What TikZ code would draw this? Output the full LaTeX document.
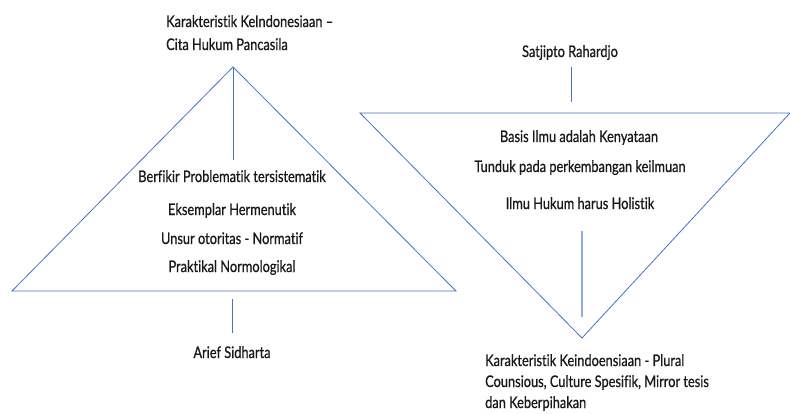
\documentclass[tikz,border=0pt]{standalone}
\usepackage{fontspec}
\setmainfont{Lato}[FakeStretch=0.8, FakeBold=0.7, Ligatures=NoCommon]
\begin{document}
\begin{tikzpicture}[x=1pt,y=-1pt,
  outline/.style={draw=edgeblue, line width=0.8pt},
  stem/.style={draw=edgeblue, line width=0.8pt},
  softstem/.style={draw=lightblue, line width=1.6pt},
  lbl/.style={inner sep=0pt, anchor=base, font=\fontsize{16}{22}\selectfont, text=black!90},
  para/.style={lbl, align=left, anchor=base west},
]
\definecolor{edgeblue}{HTML}{4472C4}
\definecolor{lightblue}{HTML}{8FAADC}
\path[use as bounding box] (0,0) rectangle (790,413);

% left triangle (apex up)
\coordinate (la) at (233,67);
\coordinate (ll) at (12,291);
\coordinate (lr) at (456,291);
\draw[outline, line join=miter] (ll) -- (la) -- (lr) -- cycle;

% multi-line labels are placed by the baseline of their last line
\node[para] (ltop) at (166,50)
  {Karakteristik KeIndonesiaan –\\[1pt]Cita Hukum Pancasila};
\coordinate (lstemend) at (233,160);
\draw[stem] (la) -- (lstemend);

\node[lbl] (l1) at (232,182) {Berfikir Problematik tersistematik};
\node[lbl] (l2) at (232,215) {Eksemplar Hermenutik};
\node[lbl] (l3) at (232,244) {Unsur otoritas - Normatif};
\node[lbl] (l4) at (232,272) {Praktikal Normologikal};

\coordinate (lbot1) at (232,299);
\coordinate (lbot2) at (232,333);
\draw[stem] (lbot1) -- (lbot2);
\node[lbl] (arief) at (232,358) {Arief Sidharta};

% right triangle (apex down)
\coordinate (rl) at (360,113);
\coordinate (rr) at (790,113);
\coordinate (ra) at (582,338);
\draw[outline] (rr) -- (rl) -- (ra) -- (rr);

\node[lbl] (satjipto) at (570,57) {Satjipto Rahardjo};
\coordinate (rtop1) at (571,67);
\coordinate (rtop2) at (571,102);
\draw[stem] (rtop1) -- (rtop2);

\node[lbl] (r1) at (579,142) {Basis Ilmu adalah Kenyataan};
\node[lbl] (r2) at (580,172) {Tunduk pada perkembangan keilmuan};
\node[lbl] (r3) at (580,209) {Ilmu Hukum harus Holistik};

\coordinate (rstem1) at (582,231);
\coordinate (rstem2) at (582,317);
\draw[softstem] (rstem1) -- (rstem2);

\node[para] (rbot) at (485,408)
  {Karakteristik Keindoensiaan - Plural\\[-1pt]Counsious, Culture Spesifik, Mirror tesis\\[-1pt]dan Keberpihakan};
\end{tikzpicture}
\end{document}
